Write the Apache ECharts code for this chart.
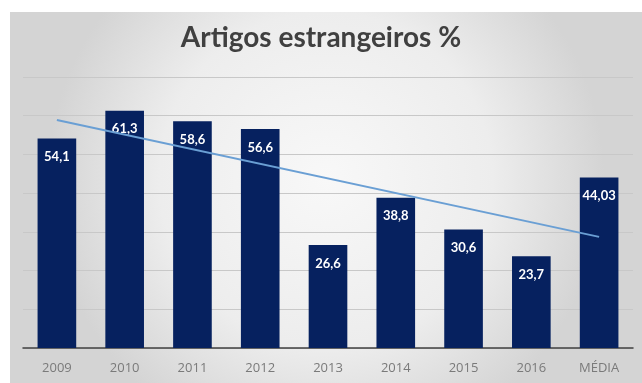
<!DOCTYPE html>
<html>
<head>
<meta charset="utf-8">
<script src="https://cdn.jsdelivr.net/npm/echarts@6/dist/echarts.min.js"></script>
<style>
html,body{margin:0;padding:0;background:#ffffff;}
#c{width:642px;height:383px;}
</style>
</head>
<body>
<div id="c"></div>
<script>
const titleText = 'Artigos estrangeiros %';
const categories = ['2009','2010','2011','2012','2013','2014','2015','2016','MÉDIA'];
const values = [54.1, 61.3, 58.6, 56.6, 26.6, 38.8, 30.6, 23.7, 44.03];
const valueLabels = ['54,1','61,3','58,6','56,6','26,6','38,8','30,6','23,7','44,03'];
// trend line endpoints (first and last category)
const trendStart = 58.9;
const trendEnd = 28.7;
const trendData = categories.map((c, i) => i === 0 ? trendStart : (i === categories.length - 1 ? trendEnd : null));

const chart = echarts.init(document.getElementById('c'), null, {renderer: 'canvas'});
chart.setOption({
  animation: false,
  backgroundColor: '#ffffff',
  graphic: [{
    type: 'rect', left: 10, top: 12, z: -10, silent: true,
    shape: {width: 632, height: 371},
    style: {
      fill: {type: 'radial', x: 0.5, y: 0.45, r: 0.75,
        colorStops: [{offset: 0, color: '#f8f8f8'}, {offset: 0.6, color: '#ededed'}, {offset: 1, color: '#d4d4d4'}]}
    }
  }],
  title: {
    text: titleText, left: 'center', top: 19,
    textStyle: {fontFamily: 'Lato', fontWeight: 'bold', fontSize: 28, color: '#404040'}
  },
  grid: {left: 23, right: 9, top: 77, bottom: 35, containLabel: false},
  xAxis: {
    type: 'category', data: categories,
    axisLine: {lineStyle: {color: '#404040', width: 1.5}},
    axisTick: {show: false},
    axisLabel: {color: '#7a7a7a', fontFamily: 'Open Sans', fontSize: 13, margin: 14}
  },
  yAxis: {
    type: 'value', min: 0, max: 70, interval: 10,
    axisLabel: {show: false}, axisLine: {show: false}, axisTick: {show: false},
    splitLine: {lineStyle: {color: '#c8c8c8', width: 1}}
  },
  series: [{
    type: 'bar', data: values, barWidth: '57%', z: 2,
    itemStyle: {color: '#06215f'},
    label: {
      show: true, position: 'insideTop', distance: 12,
      formatter: p => valueLabels[p.dataIndex],
      color: '#ffffff', fontFamily: 'Lato', fontWeight: 'bold', fontSize: 13
    }
  }, {
    type: 'line', data: trendData, connectNulls: true, z: 3,
    symbol: 'none', silent: true,
    lineStyle: {color: '#6a9fd4', width: 2}
  }]
});
</script>
</body>
</html>
